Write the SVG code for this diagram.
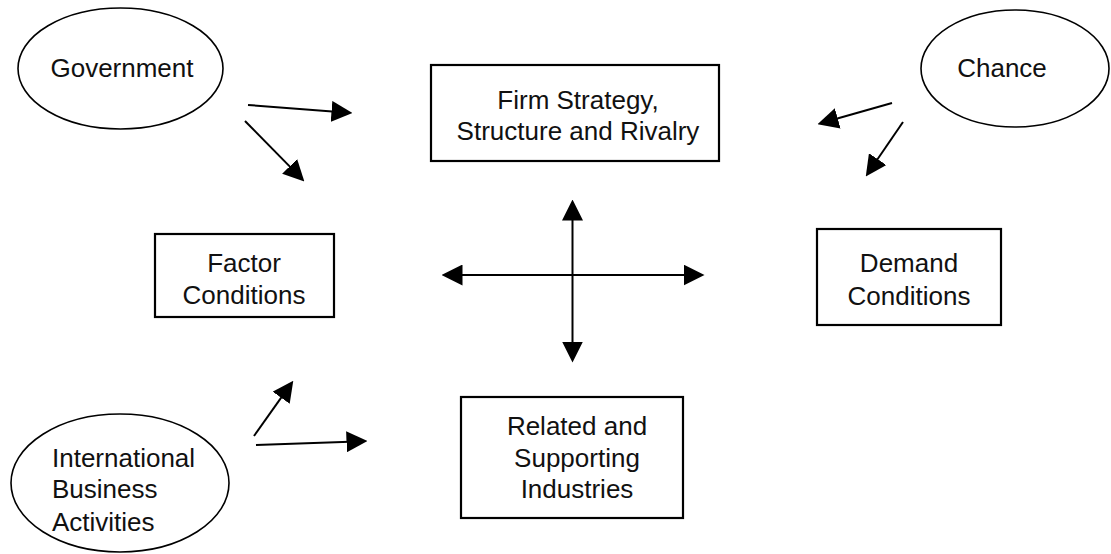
<svg xmlns="http://www.w3.org/2000/svg" width="1111" height="554" viewBox="0 0 1111 554">
  <defs>
    <style>
      .bg { fill: #ffffff; }
      .box { fill: #ffffff; stroke: #000000; stroke-width: 2.2; }
      .oval { fill: #ffffff; stroke: #000000; stroke-width: 1.6; }
      .label { font-family: "Liberation Sans", Arial, sans-serif; font-size: 26px; fill: #111111; }
      .mid { text-anchor: middle; }
      .link { fill: none; stroke: #000000; stroke-width: 2; }
    </style>
    <!-- solid triangular head, tip sits 10px past the line end -->
    <marker id="head" viewBox="0 0 20 20" refX="10" refY="10" markerWidth="21" markerHeight="21" markerUnits="userSpaceOnUse" orient="auto-start-reverse">
      <path d="M0,0 L20,10 L0,20 Z" fill="#000000"/>
    </marker>
  </defs>

  <rect class="bg" x="0" y="0" width="1111" height="554"/>

  <g id="government">
    <ellipse class="oval" cx="120.5" cy="68.5" rx="102.5" ry="60.5"/>
    <text class="label mid" x="122" y="77">Government</text>
  </g>

  <g id="chance">
    <ellipse class="oval" cx="1015" cy="68.5" rx="94" ry="58.5"/>
    <text class="label mid" x="1002" y="77">Chance</text>
  </g>

  <g id="firm-strategy">
    <rect class="box" x="431" y="65" width="288" height="96"/>
    <text class="label mid" x="578" y="109">Firm Strategy,</text>
    <text class="label mid" x="578" y="140">Structure and Rivalry</text>
  </g>

  <g id="factor-conditions">
    <rect class="box" x="155" y="234" width="179" height="83"/>
    <text class="label mid" x="244" y="272">Factor</text>
    <text class="label mid" x="244" y="304">Conditions</text>
  </g>

  <g id="demand-conditions">
    <rect class="box" x="817" y="229" width="184" height="96"/>
    <text class="label mid" x="909" y="272">Demand</text>
    <text class="label mid" x="909" y="305">Conditions</text>
  </g>

  <g id="related-supporting">
    <rect class="box" x="461" y="397" width="222" height="121"/>
    <text class="label mid" x="577" y="435">Related and</text>
    <text class="label mid" x="577" y="467">Supporting</text>
    <text class="label mid" x="577" y="498">Industries</text>
  </g>

  <g id="international-business">
    <ellipse class="oval" cx="120" cy="483" rx="109" ry="69"/>
    <text class="label" x="52" y="467">International</text>
    <text class="label" x="52" y="498">Business</text>
    <text class="label" x="52" y="531">Activities</text>
  </g>

  <g id="connectors">
    <!-- government influences -->
    <line class="link" x1="248" y1="105" x2="342" y2="112.2" marker-end="url(#head)"/>
    <line class="link" x1="245" y1="121" x2="297" y2="173.9" marker-end="url(#head)"/>
    <!-- chance influences -->
    <line class="link" x1="892" y1="103" x2="827.6" y2="121.3" marker-end="url(#head)"/>
    <line class="link" x1="903" y1="122" x2="871.7" y2="167.8" marker-end="url(#head)"/>
    <!-- international business influences -->
    <line class="link" x1="254" y1="436" x2="287.2" y2="389.2" marker-end="url(#head)"/>
    <line class="link" x1="256" y1="445" x2="357" y2="441.4" marker-end="url(#head)"/>
    <!-- central two-way cross -->
    <line class="link" x1="452" y1="275" x2="694" y2="275" marker-start="url(#head)" marker-end="url(#head)"/>
    <line class="link" x1="572.5" y1="210" x2="572.5" y2="352" marker-start="url(#head)" marker-end="url(#head)"/>
  </g>
</svg>
